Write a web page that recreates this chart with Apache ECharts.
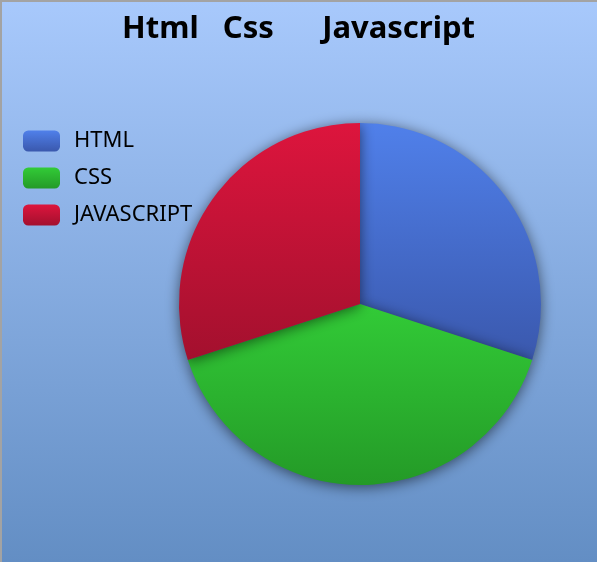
<!DOCTYPE html>
<html>
<head>
<meta charset="utf-8">
<script src="https://cdn.jsdelivr.net/npm/echarts@6/dist/echarts.min.js"></script>
<style>
html,body{margin:0;padding:0;overflow:hidden;}
#wrap{position:relative;width:597px;height:562px;}
#chart{width:597px;height:562px;}
#frame{position:absolute;left:0;top:0;width:595px;height:560px;border-top:2px solid #a3a3a3;border-left:2px solid #a3a3a3;pointer-events:none;}
</style>
</head>
<body>
<div id="wrap"><div id="chart"></div><div id="frame"></div></div>
<script>
var titleText = 'Html   Css      Javascript';
var categories = ['HTML', 'CSS', 'JAVASCRIPT'];
var values = [30, 40, 30];
var topColors = ['#5080ea', '#32cb37', '#dd153d'];
var bottomColors = ['#3a58ad', '#249a27', '#a3102e'];

var chart = echarts.init(document.getElementById('chart'));
var data = categories.map(function (c, i) {
  return {
    name: c,
    value: values[i],
    itemStyle: {
      color: {
        type: 'linear', x: 0, y: 0, x2: 0, y2: 1,
        colorStops: [{offset: 0, color: topColors[i]}, {offset: 1, color: bottomColors[i]}]
      }
    }
  };
});
chart.setOption({
  backgroundColor: {
    type: 'linear', x: 0, y: 0, x2: 0, y2: 1,
    colorStops: [{offset: 0, color: '#a8c9fc'}, {offset: 1, color: '#638ec4'}]
  },
  title: {
    text: titleText,
    left: 'center',
    top: 9,
    textStyle: {fontFamily: 'Noto Sans', fontWeight: 'bold', fontSize: 31, color: '#000'}
  },
  legend: {
    orient: 'vertical',
    left: 18,
    top: 125,
    itemWidth: 37,
    itemHeight: 21,
    itemGap: 15,
    icon: 'roundRect',
    textStyle: {fontFamily: 'Noto Sans', fontSize: 22, color: '#000', padding: [0, 0, 0, 9]},
    data: categories
  },
  series: [{
    type: 'pie',
    center: [360, 304],
    radius: 181,
    startAngle: 90,
    clockwise: true,
    label: {show: false},
    labelLine: {show: false},
    emphasis: {disabled: true},
    itemStyle: {
      shadowBlur: 14,
      shadowColor: 'rgba(0,0,0,0.55)',
      shadowOffsetY: 2
    },
    data: data
  }]
});
</script>
</body>
</html>
